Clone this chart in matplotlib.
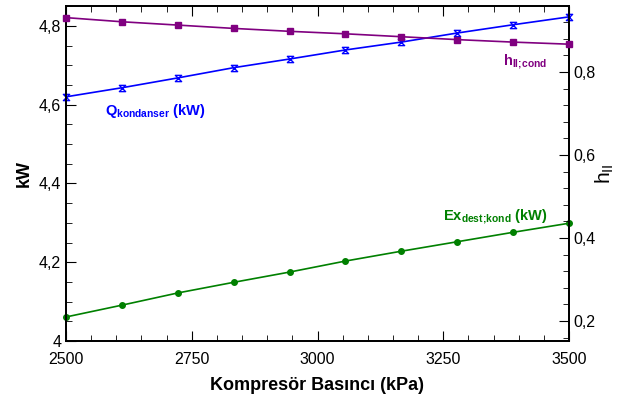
import numpy as np
import matplotlib
matplotlib.use('Agg')
import matplotlib.pyplot as plt
from matplotlib.path import Path
from matplotlib.ticker import MultipleLocator, FuncFormatter

plt.rcParams['font.family'] = ['Liberation Sans', 'DejaVu Sans']
plt.rcParams['mathtext.fontset'] = 'custom'
plt.rcParams['mathtext.rm'] = 'Liberation Sans'
plt.rcParams['mathtext.bf'] = 'Liberation Sans:bold'

# compressor pressure (kPa)
pressure = np.linspace(2500, 3500, 10)
# condenser heat (kW)
q_kond = [4.620, 4.643, 4.668, 4.694, 4.716, 4.739, 4.759, 4.782, 4.803, 4.823]
# exergy destruction (kW)
ex_dest = [4.061, 4.091, 4.122, 4.149, 4.175, 4.203, 4.228, 4.252, 4.276, 4.299]
# second-law efficiency
eta_ii = [0.931, 0.921, 0.913, 0.905, 0.898, 0.892, 0.885, 0.878, 0.872, 0.867]

hourglass = Path([(-1, 1), (1, 1), (-1, -1), (1, -1), (-1, 1)],
                 [Path.MOVETO, Path.LINETO, Path.LINETO, Path.LINETO, Path.CLOSEPOLY])

comma = FuncFormatter(lambda v, p: ('%g' % round(v, 3)).replace('.', ','))

fig = plt.figure(figsize=(6.36, 4.03), dpi=100)
ax = fig.add_axes([66/636, 62/403, 503/636, 335/403])
ax2 = ax.twinx()

ax.plot(pressure, q_kond, color='#0000ff', lw=1.2, marker=hourglass,
        ms=4.5, mfc='none', mec='#0000ff', mew=1.0, clip_on=False, zorder=3)
ax.plot(pressure, ex_dest, color='#008000', lw=1.2, marker='o', ms=4,
        clip_on=False, zorder=3)
ax2.plot(pressure, eta_ii, color='#800080', lw=1.2, marker='s', ms=5,
         clip_on=False, zorder=3)

ax.set_xlim(2500, 3500)
ax.set_ylim(4, 4.8506)
ax2.set_ylim(0.1518, 0.959)

ax.xaxis.set_major_locator(MultipleLocator(250))
ax.xaxis.set_minor_locator(MultipleLocator(50))
ax.yaxis.set_major_locator(MultipleLocator(0.2))
ax.yaxis.set_minor_locator(MultipleLocator(0.05))
ax2.yaxis.set_major_locator(MultipleLocator(0.2))
ax2.yaxis.set_minor_locator(MultipleLocator(0.04))
ax.yaxis.set_major_formatter(comma)
ax2.yaxis.set_major_formatter(comma)

ax.tick_params(which='both', direction='in', top=True, labelsize=11.5)
ax.tick_params(which='major', length=7)
ax.tick_params(which='minor', length=4)
ax.tick_params(axis='y', which='both', right=False)
ax2.tick_params(which='both', direction='in', labelsize=11.5)
ax2.tick_params(which='major', length=7)
ax2.tick_params(which='minor', length=4)
ax.tick_params(axis='x', pad=8)

for a in (ax, ax2):
    for s in a.spines.values():
        s.set_linewidth(1.3)

ax.set_xlabel('Kompresör Basıncı (kPa)', fontsize=13, fontweight='bold', labelpad=7)
ax.set_ylabel('kW', fontsize=13, fontweight='bold', labelpad=4)
ax2.set_ylabel(r'$\mathregular{h_{II}}$', fontsize=15, labelpad=-2)

ax.text(2578, 4.585, r'$\mathbf{Q_{kondanser}}$ (kW)', color='#0000ff',
        fontsize=10.5, fontweight='bold', va='center')
ax.text(3369, 4.709, r'$\mathbf{h_{II;\!cond}}$', color='#800080',
        fontsize=10.5, fontweight='bold', va='center')
ax.text(3250, 4.314, r'$\mathbf{Ex_{dest;\!kond}}$ (kW)', color='#008000',
        fontsize=10.5, fontweight='bold', va='center')

fig.savefig('out.png', dpi=100)
